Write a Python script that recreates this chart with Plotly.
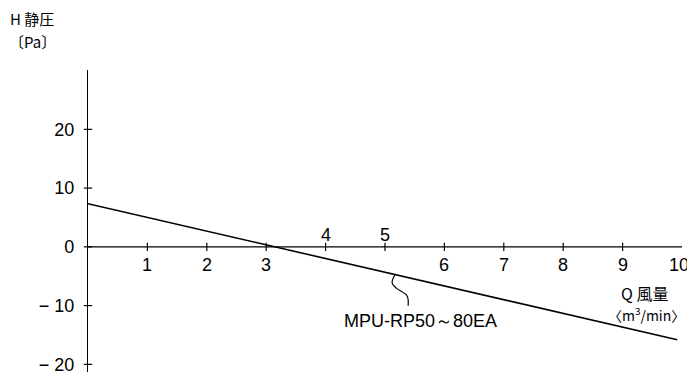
import plotly.graph_objects as go

# data
q_vals = [0, 9.92]
h_vals = [7.35, -15.8]
x_ticks = [1, 2, 3, 4, 5, 6, 7, 8, 9, 10]
x_tick_labels = ["1", "2", "3", "4", "5", "6", "7", "8", "9", "10"]
x_labels_above = [4, 5]
y_ticks = [20, 10, 0, -10, -20]
y_tick_labels = ["20", "10", "0", "− 10", "− 20"]
series_name = "MPU-RP50～80EA"

FONT = "Liberation Sans Narrow, Liberation Sans, Arial, sans-serif"
CJK = "Noto Sans CJK JP, Liberation Sans, sans-serif"
FS = 18
PW = 594  # plot width px
PH = 302  # plot height px

fig = go.Figure()

# performance line
fig.add_trace(go.Scatter(x=q_vals, y=h_vals, mode="lines",
                         line=dict(color="black", width=1.6), showlegend=False, hoverinfo="skip"))

# x-axis line at y=0
fig.add_trace(go.Scatter(x=[0, 10], y=[0, 0], mode="lines",
                         line=dict(color="black", width=1.4), showlegend=False, hoverinfo="skip"))

# x tick marks
fig.add_trace(go.Scatter(x=x_ticks[:-1], y=[0] * (len(x_ticks) - 1), mode="markers",
                         marker=dict(symbol="line-ns", size=6, line=dict(color="black", width=1.2)),
                         showlegend=False, hoverinfo="skip"))

# x tick labels
for x, t in zip(x_ticks, x_tick_labels):
    up = x in x_labels_above
    fig.add_annotation(x=x, y=0, text=t, showarrow=False, xanchor="center", yanchor="middle",
                       yshift=12 if up else -18, xshift=-3 if x == x_ticks[-1] else 0,
                       font=dict(family=FONT, size=FS, color="black"))

# y tick marks
fig.add_trace(go.Scatter(x=[0] * len(y_ticks), y=y_ticks, mode="markers",
                         marker=dict(symbol="line-ew", size=6, line=dict(color="black", width=1.2)),
                         showlegend=False, hoverinfo="skip", cliponaxis=False))

# leader squiggle from the line to the label
xl = 5.17
yl = h_vals[0] + (h_vals[1] - h_vals[0]) * (xl - q_vals[0]) / (q_vals[1] - q_vals[0])
fig.add_trace(go.Scatter(x=[xl, xl - 0.05, xl + 0.02, xl + 0.2, xl + 0.22],
                         y=[yl, yl - 1.4, yl - 2.3, yl - 3.6, yl - 5.3],
                         mode="lines", line=dict(color="black", width=1.2, shape="spline"),
                         showlegend=False, hoverinfo="skip"))

fig.add_annotation(x=5.59, y=-12.6, text=series_name, showarrow=False,
                   font=dict(family=FONT, size=FS, color="black"), xanchor="center", yanchor="middle")

# axis titles
fig.add_annotation(xref="paper", yref="paper", x=-80 / PW, y=1 + 51 / PH, text="H 静圧",
                   showarrow=False, xanchor="left", yanchor="middle",
                   font=dict(family=CJK, size=15, color="black"))
fig.add_annotation(xref="paper", yref="paper", x=-81 / PW, y=1 + 29 / PH, text="〔Pa〕",
                   showarrow=False, xanchor="left", yanchor="middle",
                   font=dict(family=CJK, size=15, color="black"))
fig.add_annotation(xref="paper", yref="paper", x=1 - 12 / PW, y=79 / PH, text="Q 風量",
                   showarrow=False, xanchor="right", yanchor="middle",
                   font=dict(family=CJK, size=16, color="black"))
fig.add_annotation(xref="paper", yref="paper", x=1 + 5 / PW, y=58 / PH,
                   text="〈m<sup>3</sup>/min〉", showarrow=False, xanchor="right", yanchor="middle",
                   font=dict(family=CJK, size=14, color="black"))

# page has an 8px body margin: figure is placed at (8,8)
fig.update_layout(
    width=687, height=372,
    margin=dict(l=80, r=13, t=62, b=8, autoexpand=False),
    paper_bgcolor="white", plot_bgcolor="white",
    xaxis=dict(range=[0, 10], showgrid=False, zeroline=False, showline=False,
               showticklabels=False, ticks="", automargin=False),
    yaxis=dict(range=[-21.3, 30.1], showgrid=False, zeroline=False,
               showline=True, linecolor="black", linewidth=1.4, automargin=False,
               tickvals=y_ticks, ticktext=y_tick_labels, ticks="",
               tickfont=dict(family=FONT, size=FS, color="black"), ticklabelstandoff=9),
)

fig.write_html("out.html")
